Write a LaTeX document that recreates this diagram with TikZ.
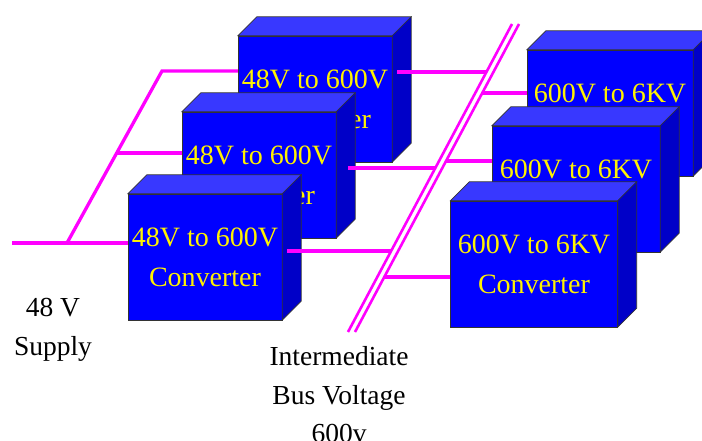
\documentclass[tikz,border=0pt]{standalone}
\usepackage{fontspec}
\setmainfont{Liberation Serif}
\usepackage{xcolor}
\usepackage{tikz}
\usetikzlibrary{calc}
\definecolor{convblue}{HTML}{0000FF}
\definecolor{topblue}{HTML}{3838FF}
\definecolor{sideblue}{HTML}{0000C8}
\definecolor{wirecolor}{HTML}{FF00FF}

\begin{document}
\begin{tikzpicture}[
    x=1pt, y=-1pt,
    conv/.style={draw=black!80, fill=convblue, minimum height=126pt, inner sep=0pt,
                 text=yellow, align=center, font=\fontsize{28}{40}\selectfont},
    face/.style={draw=black!80, line width=0.6pt},
    feed/.style={draw=wirecolor, line width=3.3pt},
    busline/.style={draw=wirecolor, line width=2.6pt},
    lbl/.style={align=center, font=\fontsize{27.5}{38.5}\selectfont}
]
    \clip (0,0) rectangle (702,441);

    % Converter cubes, back to front
    \foreach \n/\x/\y/\w/\t in {A/315/99/154/{48V to 600V\\Converter},
                                B/259/175/154/{48V to 600V\\Converter},
                                C/205/257/154/{48V to 600V\\Converter},
                                D/610/113/166/{600V to 6KV\\Converter},
                                E/576/189/168/{600V to 6KV\\Converter},
                                F/534/264/167/{600V to 6KV\\Converter}}{
        \node[conv, minimum width=\w pt] (\n) at (\x,\y) {\t};
        \draw[face, fill=topblue] (\n.north west) -- ++(19,-19)
            -- ($(\n.north east)+(19,-19)$) -- (\n.north east) -- cycle;
        \draw[face, fill=sideblue] (\n.north east) -- ++(19,-19)
            -- ($(\n.south east)+(19,-19)$) -- (\n.south east) -- cycle;
    }

    % 48 V supply and its branches
    \coordinate (feedin) at (12,243);
    \coordinate (joint) at (67,243);
    \coordinate (branchA) at (162,71);
    \coordinate (branchB) at ($(joint)!0.523!(branchA)$);
    \draw[feed] (feedin) -- (feedin -| C.west);
    \draw[feed] (joint) -- (branchA) -- (branchA -| A.west);
    \draw[feed] (branchB) -- (branchB -| B.west);

    % Intermediate bus
    \coordinate (busLtop) at (512,24);
    \coordinate (busLbot) at (348,332);
    \coordinate (busRtop) at (519,24);
    \coordinate (busRbot) at (355,332);
    \draw[busline] (busLtop) -- (busLbot);
    \draw[busline] (busRtop) -- (busRbot);

    % Taps on the bus
    \coordinate (tapA) at ($(busLtop)!0.156!(busLbot)$);
    \coordinate (tapB) at ($(busLtop)!0.4675!(busLbot)$);
    \coordinate (tapC) at ($(busLtop)!0.737!(busLbot)$);
    \coordinate (tapD) at ($(busRtop)!0.224!(busRbot)$);
    \coordinate (tapE) at ($(busRtop)!0.445!(busRbot)$);
    \coordinate (tapF) at ($(busRtop)!0.821!(busRbot)$);

    \draw[feed] ($(tapA -| A.east)+(5,0)$) -- (tapA);
    \draw[feed] ($(tapB -| B.east)+(12,0)$) -- (tapB);
    \draw[feed] ($(tapC -| C.east)+(5,0)$) -- (tapC);
    \draw[feed] (tapD) -- (tapD -| D.west);
    \draw[feed] (tapE) -- (tapE -| E.west);
    \draw[feed] (tapF) -- (tapF -| F.west);

    % Labels
    \node[lbl] (supply) at (53,330) {48 V\\Supply};
    \node[lbl] (busvolt) at (339,395) {Intermediate\\Bus Voltage\\600v};
\end{tikzpicture}
\end{document}
